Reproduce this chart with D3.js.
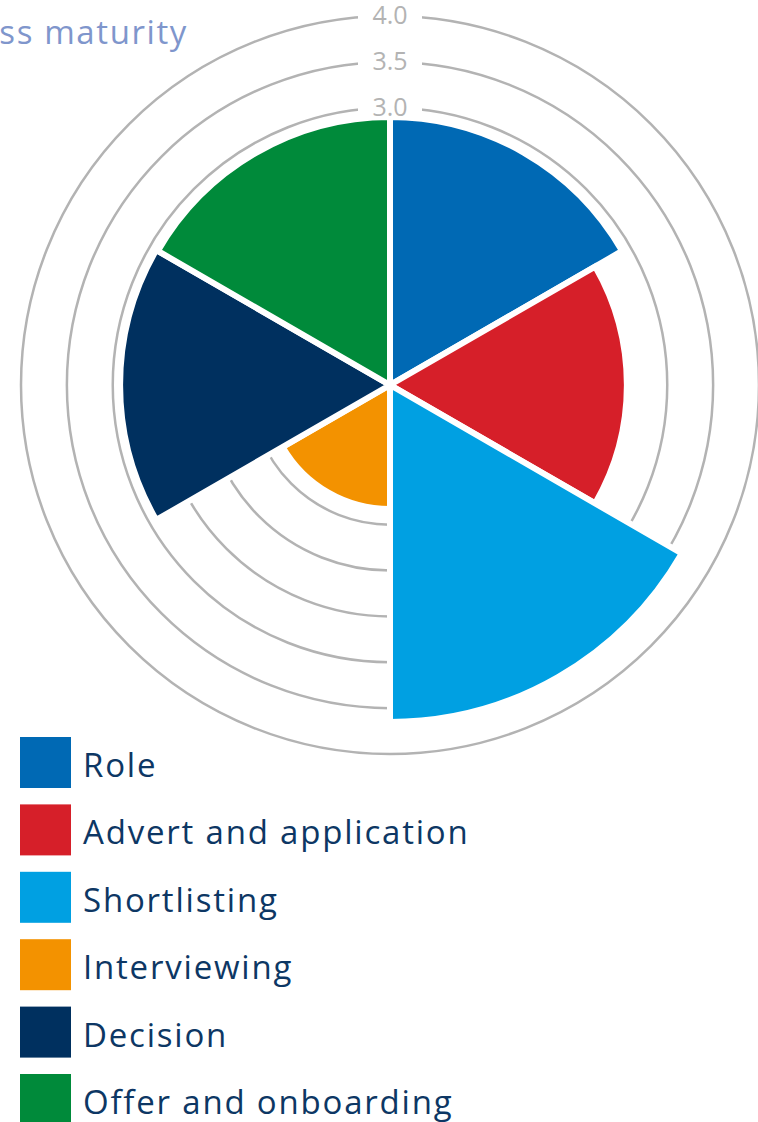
<!DOCTYPE html>
<html>
<head>
<meta charset="utf-8">
<script src="https://cdn.jsdelivr.net/npm/d3@7"></script>
<style>
  html, body { margin: 0; padding: 0; background: #fff; }
  svg { display: block; }
  text { font-family: "Open Sans", "Noto Sans", sans-serif; }
</style>
</head>
<body>
<svg id="chart" width="758" height="1122"></svg>
<script>
// stages of the hiring process, clockwise from 12 o'clock
var stages = ["Role", "Advert and application", "Shortlisting", "Interviewing", "Decision", "Offer and onboarding"];
var scores = [2.9, 2.56, 3.65, 1.33, 2.92, 2.9];
var colors = ["#0069b4", "#d61f29", "#00a0e2", "#f39200", "#00305f", "#008a3a"];
var ringTicks = [0.5, 1, 1.5, 2, 2.5, 3, 3.5, 4];
var tickLabels = ["0.5", "1.0", "1.5", "2.0", "2.5", "3.0", "3.5", "4.0"];
var title = "Process maturity";

var svg = d3.select("#chart");
var cx = 390, cy = 385;

var r = d3.scaleLinear().domain([0, 4]).range([2, 369]);
var angle = d3.scaleBand().domain(stages).range([0, 2 * Math.PI]);

var g = svg.append("g").attr("transform", "translate(" + cx + "," + cy + ")");

// grid rings
g.selectAll("circle.ring")
  .data(ringTicks)
  .join("circle")
  .attr("class", "ring")
  .attr("r", function(d) { return r(d); })
  .attr("fill", "none")
  .attr("stroke", "#b3b3b3")
  .attr("stroke-width", 2.5);

// wedges
var arc = d3.arc()
  .innerRadius(0)
  .outerRadius(function(d) { return r(d.value); })
  .startAngle(function(d) { return angle(d.stage); })
  .endAngle(function(d) { return angle(d.stage) + angle.bandwidth(); });

var wedges = stages.map(function(s, i) { return { stage: s, value: scores[i], color: colors[i] }; });

g.selectAll("path.wedge")
  .data(wedges)
  .join("path")
  .attr("class", "wedge")
  .attr("d", arc)
  .attr("fill", function(d) { return d.color; })
  .attr("stroke", "#fff")
  .attr("stroke-width", 6)
  .attr("stroke-linejoin", "miter");

// tick labels on the rings at 12 o'clock, only where the ring clears the top wedges
var topValue = Math.max(scores[0], scores[scores.length - 1]);
var shown = ringTicks
  .map(function(d, i) { return { v: d, label: tickLabels[i] }; })
  .filter(function(d) { return d.v > topValue; });

var lbl = g.selectAll("g.tick")
  .data(shown)
  .join("g")
  .attr("class", "tick")
  .attr("transform", function(d) { return "translate(0," + (-r(d.v)) + ")"; });

lbl.append("rect")
  .attr("x", -32).attr("y", -8)
  .attr("width", 64).attr("height", 16)
  .attr("fill", "#fff");

lbl.append("text")
  .attr("text-anchor", "middle")
  .attr("dy", "0.33em")
  .attr("font-size", 25)
  .attr("fill", "#b3b3b3")
  .text(function(d) { return d.label; });

// title, cut off at the left edge like the source
svg.append("text")
  .attr("x", 188)
  .attr("y", 44)
  .attr("text-anchor", "end")
  .attr("font-size", 33)
  .attr("letter-spacing", 1.6)
  .attr("fill", "#7f96cc")
  .text(title);

// legend
var legend = svg.append("g").attr("transform", "translate(20,737)");
var item = legend.selectAll("g")
  .data(stages)
  .join("g")
  .attr("transform", function(d, i) { return "translate(0," + (i * 67.4) + ")"; });

item.append("rect")
  .attr("width", 51)
  .attr("height", 51)
  .attr("fill", function(d, i) { return colors[i]; });

item.append("text")
  .attr("x", 63)
  .attr("y", 40)
  .attr("font-size", 33)
  .attr("letter-spacing", 1.8)
  .attr("fill", "#0d3764")
  .text(function(d) { return d; });
</script>
</body>
</html>
